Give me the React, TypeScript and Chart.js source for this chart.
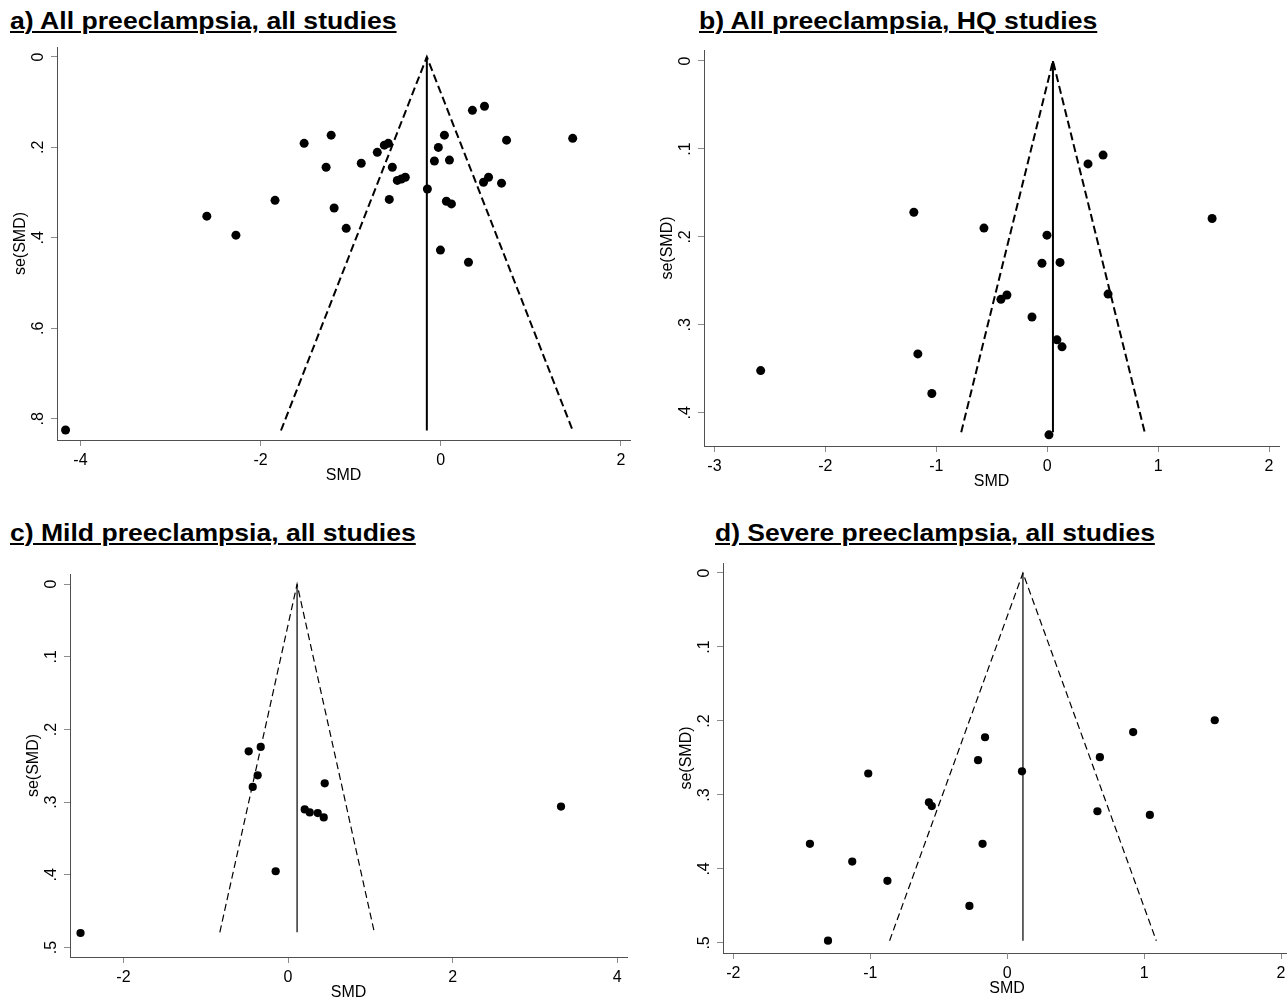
import React, { useEffect, useLayoutEffect, useRef } from "react";
import { Chart, registerables } from "chart.js";

Chart.register(...registerables);

const FONT = "'Liberation Sans', Arial, Helvetica, sans-serif";
const TITLE_FONT = "'Liberation Sans Narrow', 'Liberation Sans', Arial, sans-serif";

// ---------- Data ----------
const titles = [
  "a) All preeclampsia, all studies",
  "b) All preeclampsia, HQ studies",
  "c) Mild preeclampsia, all studies",
  "d) Severe preeclampsia, all studies",
];

const xAxisTitle = "SMD";
const yAxisTitle = "se(SMD)";

// a) All preeclampsia, all studies
const smdA = [0.351, 0.485, 1.464, -1.517, -1.217, 0.04, 0.73, -0.583, -0.627, -0.027, -0.705, -0.883, -1.273, -0.538, -0.071, 0.096, -0.483, -0.438, -0.394, 0.474, 0.53, 0.674, -0.149, -1.84, -0.572, 0.062, 0.118, -1.184, -2.597, -1.05, -2.274, -0.004, 0.307, -4.165];
const seA = [0.118, 0.109, 0.18, 0.191, 0.173, 0.173, 0.184, 0.191, 0.195, 0.2, 0.211, 0.235, 0.244, 0.244, 0.23, 0.228, 0.273, 0.27, 0.266, 0.277, 0.266, 0.279, 0.292, 0.317, 0.315, 0.319, 0.325, 0.334, 0.352, 0.379, 0.394, 0.427, 0.454, 0.825];

// b) All preeclampsia, HQ studies
const smdB = [0.504, 0.368, -1.202, 1.487, -0.57, -0.002, -0.047, 0.116, -0.417, -0.363, 0.549, -0.137, 0.088, 0.134, -1.166, -1.04, 0.016, -2.583];
const seB = [0.107, 0.117, 0.172, 0.179, 0.19, 0.198, 0.23, 0.229, 0.271, 0.266, 0.265, 0.291, 0.317, 0.325, 0.333, 0.378, 0.425, 0.352];

// c) Mild preeclampsia, all studies
const smdC = [-0.478, -0.332, -0.369, -0.429, 0.446, 0.203, 0.264, 0.361, 0.434, -0.15, 3.318, -2.522];
const seC = [0.23, 0.224, 0.263, 0.279, 0.274, 0.31, 0.314, 0.315, 0.321, 0.395, 0.306, 0.48];

// d) Severe preeclampsia, all studies
const smdD = [1.516, 0.92, -0.162, -0.213, 0.677, 0.108, -1.015, -0.572, -0.551, 0.659, 1.042, -1.441, -0.18, -1.132, -0.875, -0.276, -1.309];
const seD = [0.199, 0.215, 0.222, 0.253, 0.249, 0.268, 0.271, 0.31, 0.315, 0.322, 0.327, 0.366, 0.366, 0.39, 0.416, 0.45, 0.497];

// pooled estimate and largest se (funnel apex / depth)
const pooledSMD = [-0.155, 0.052, 0.11, 0.115];
const funnelSeMax = [0.826, 0.422, 0.479, 0.497];

// tick labels
const xTicksA = [-4, -2, 0, 2];
const yTicksA = [0, 0.2, 0.4, 0.6, 0.8];
const xTicksB = [-3, -2, -1, 0, 1, 2];
const yTicksB = [0, 0.1, 0.2, 0.3, 0.4];
const xTicksC = [-2, 0, 2, 4];
const yTicksC = [0, 0.1, 0.2, 0.3, 0.4, 0.5];
const xTicksD = [-2, -1, 0, 1, 2];
const yTicksD = [0, 0.1, 0.2, 0.3, 0.4, 0.5];

// ---------- Layout ----------
type Geo = {
  left: number; top: number; right: number; bottom: number;
  xMin: number; xMax: number; yMin: number; yMax: number;
  radius: number; lineWidth: number; dash: number[];
  titleLeft: number; titleWidth: number; titleBaseline: number;
};

const geos: Geo[] = [
  { left: 57, top: 47, right: 630, bottom: 440, xMin: -4.26, xMax: 2.1, yMin: -0.022, yMax: 0.847, radius: 4.5, lineWidth: 2, dash: [8, 4], titleLeft: 10, titleWidth: 387, titleBaseline: 29.5 },
  { left: 704, top: 50, right: 1279, bottom: 446, xMin: -3.094, xMax: 2.09, yMin: -0.0125, yMax: 0.4377, radius: 4.5, lineWidth: 2, dash: [8, 4], titleLeft: 699, titleWidth: 398, titleBaseline: 29.5 },
  { left: 70, top: 574, right: 627, bottom: 957, xMin: -2.65, xMax: 4.12, yMin: -0.014, yMax: 0.513, radius: 4.1, lineWidth: 1.2, dash: [7, 4], titleLeft: 10, titleWidth: 406, titleBaseline: 541 },
  { left: 723, top: 563, right: 1291, bottom: 953, xMin: -2.076, xMax: 2.073, yMin: -0.0135, yMax: 0.5136, radius: 4.1, lineWidth: 1.2, dash: [7, 4], titleLeft: 715, titleWidth: 440, titleBaseline: 541 },
];

const Y_AXIS_W = 46;
const X_AXIS_H = 45;
const PAD = 12;

const fmtY = (v: number) => (v === 0 ? "0" : String(v).replace(/^0/, "").replace(/^-0/, "-"));

const yRotLabels = {
  id: "yRotLabels",
  afterDraw(chart: any, _args: any, opts: any) {
    const ys = chart.scales.y;
    const ctx = chart.ctx;
    ctx.save();
    ctx.fillStyle = "#000";
    ctx.font = `16px ${FONT}`;
    ctx.textAlign = "center";
    ctx.textBaseline = "alphabetic";
    for (const v of opts.ticks as number[]) {
      const py = ys.getPixelForValue(v);
      ctx.save();
      ctx.translate(chart.chartArea.left - 14, py);
      ctx.rotate(-Math.PI / 2);
      ctx.fillText(fmtY(v), 0, 0);
      ctx.restore();
    }
    ctx.restore();
  },
};

type PanelProps = { idx: number; smd: number[]; se: number[]; xTicks: number[]; yTicks: number[] };

function FunnelPanel({ idx, smd, se, xTicks, yTicks }: PanelProps) {
  const ref = useRef<HTMLCanvasElement>(null);
  const g = geos[idx];
  const cLeft = g.left - Y_AXIS_W;
  const cTop = g.top - PAD;
  const cWidth = g.right + PAD - cLeft;
  const cHeight = g.bottom + X_AXIS_H - cTop;

  useEffect(() => {
    const canvas = ref.current!;
    const pooled = pooledSMD[idx];
    const seMax = funnelSeMax[idx];
    const points = smd.map((x, i) => ({ x, y: se[i] }));
    const funnel = [
      { x: pooled - 1.96 * seMax, y: seMax },
      { x: pooled, y: 0 },
      { x: pooled + 1.96 * seMax, y: seMax },
    ];
    const vline = [
      { x: pooled, y: 0 },
      { x: pooled, y: seMax },
    ];
    const axisCommon = {
      grid: { display: true, drawOnChartArea: false, drawTicks: true, tickLength: 6, color: "#8c8c8c", lineWidth: 1 },
      border: { display: true, color: "#505050", width: 1 },
    };
    const chart = new Chart(canvas, {
      type: "scatter",
      data: {
        datasets: [
          { data: points, pointRadius: g.radius, pointHoverRadius: g.radius, backgroundColor: "#000", borderWidth: 0, pointBorderWidth: 0, showLine: false },
          { data: funnel, showLine: true, pointRadius: 0, borderColor: "#000", borderWidth: g.lineWidth, borderDash: g.dash, tension: 0, fill: false },
          { data: vline, showLine: true, pointRadius: 0, borderColor: "#000", borderWidth: g.lineWidth, tension: 0, fill: false },
        ],
      } as any,
      options: {
        responsive: false,
        animation: false,
        devicePixelRatio: 1,
        events: [],
        layout: { padding: { left: 0, top: PAD, right: PAD, bottom: 0 } },
        plugins: {
          legend: { display: false },
          tooltip: { enabled: false },
          yRotLabels: { ticks: yTicks },
        } as any,
        scales: {
          x: {
            type: "linear",
            position: "bottom",
            min: g.xMin,
            max: g.xMax,
            afterBuildTicks: (s: any) => {
              s.ticks = xTicks.map((v) => ({ value: v }));
            },
            afterFit: (s: any) => {
              s.height = X_AXIS_H;
            },
            ticks: {
              autoSkip: false,
              minRotation: 0,
              maxRotation: 0,
              padding: 5,
              color: "#000",
              font: { family: FONT, size: 16 },
              callback: (v: any) => String(v),
            },
            title: { display: true, text: xAxisTitle, color: "#000", font: { family: FONT, size: 16 }, padding: 0 },
            ...axisCommon,
          },
          y: {
            type: "linear",
            position: "left",
            reverse: true,
            min: g.yMin,
            max: g.yMax,
            afterBuildTicks: (s: any) => {
              s.ticks = yTicks.map((v) => ({ value: v }));
            },
            afterFit: (s: any) => {
              s.width = Y_AXIS_W;
            },
            ticks: { display: false },
            title: { display: true, text: yAxisTitle, color: "#000", font: { family: FONT, size: 16 }, padding: 0 },
            ...axisCommon,
          },
        } as any,
      },
      plugins: [yRotLabels as any],
    });
    return () => chart.destroy();
  }, []);

  return (
    <canvas
      ref={ref}
      width={cWidth}
      height={cHeight}
      style={{ position: "absolute", left: cLeft, top: cTop, width: cWidth, height: cHeight }}
    />
  );
}

function PanelTitle({ idx }: { idx: number }) {
  const ref = useRef<HTMLSpanElement>(null);
  const g = geos[idx];
  const size = 24;
  useLayoutEffect(() => {
    const el = ref.current!;
    const w = el.offsetWidth;
    if (w > 0) el.style.transform = `scaleX(${g.titleWidth / w})`;
  }, []);
  return (
    <span
      ref={ref}
      style={{
        position: "absolute",
        left: g.titleLeft,
        top: g.titleBaseline - 0.8465 * size,
        fontFamily: TITLE_FONT,
        fontWeight: 700,
        fontSize: size,
        lineHeight: `${size}px`,
        whiteSpace: "nowrap",
        color: "#000",
        textDecoration: "underline",
        textDecorationThickness: "2px",
        textUnderlineOffset: "2px",
        transformOrigin: "0 0",
      }}
    >
      {titles[idx]}
    </span>
  );
}

export default function App() {
  return (
    <div
      style={{
        position: "fixed",
        left: 0,
        top: 0,
        width: 1287,
        height: 997,
        overflow: "hidden",
        background: "#fff",
      }}
    >
      <FunnelPanel idx={0} smd={smdA} se={seA} xTicks={xTicksA} yTicks={yTicksA} />
      <FunnelPanel idx={1} smd={smdB} se={seB} xTicks={xTicksB} yTicks={yTicksB} />
      <FunnelPanel idx={2} smd={smdC} se={seC} xTicks={xTicksC} yTicks={yTicksC} />
      <FunnelPanel idx={3} smd={smdD} se={seD} xTicks={xTicksD} yTicks={yTicksD} />
      {[0, 1, 2, 3].map((i) => (
        <PanelTitle key={i} idx={i} />
      ))}
    </div>
  );
}
